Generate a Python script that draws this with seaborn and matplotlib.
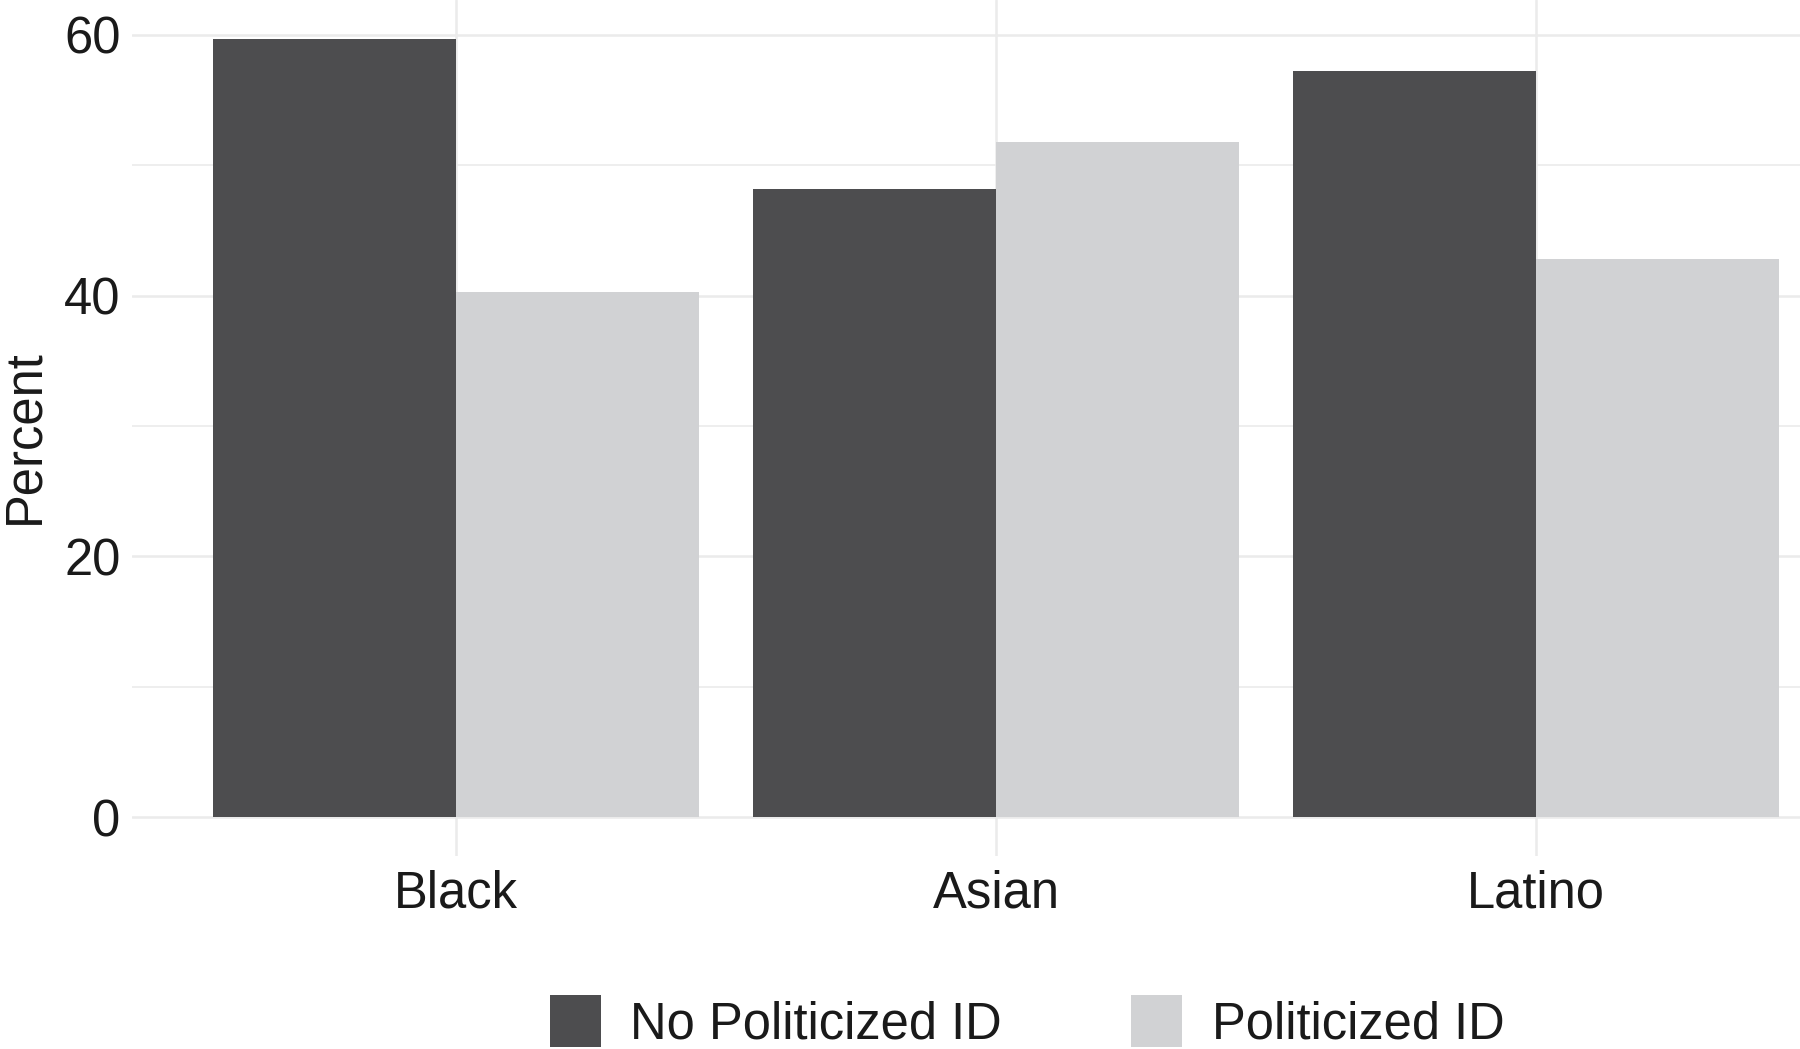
import matplotlib
matplotlib.use("Agg")
import matplotlib.pyplot as plt
import seaborn as sns
import pandas as pd
from matplotlib.patches import Patch
from matplotlib.ticker import MultipleLocator

categories = ["Black", "Asian", "Latino"]
groups = ["No Politicized ID", "Politicized ID"]
no_politicized = [59.7, 48.2, 57.2]
politicized = [40.3, 51.8, 42.8]
colors = ["#4d4d4f", "#d1d2d4"]

df = pd.DataFrame({
    "race": categories * 2,
    "group": [groups[0]] * 3 + [groups[1]] * 3,
    "pct": no_politicized + politicized,
})

sns.set_theme(style="white")
plt.rcParams["font.family"] = ["Liberation Sans", "DejaVu Sans"]

FS = 36.5

fig = plt.figure(figsize=(18, 10.49), dpi=100)
ax = fig.add_axes([0.0733, 0.184, 0.9267, 0.816])

sns.barplot(data=df, x="race", y="pct", hue="group", order=categories,
            hue_order=groups, palette=colors, width=0.9, saturation=1,
            edgecolor="none", linewidth=0, ax=ax, legend=False)

ax.set_xlim(-0.6, 2.489)
ax.set_ylim(-2.985, 62.685)
ax.yaxis.set_major_locator(MultipleLocator(20))
ax.yaxis.set_minor_locator(MultipleLocator(10))
ax.set_axisbelow(True)
ax.grid(which="major", axis="both", color="#ebebeb", linewidth=1.8)
ax.grid(which="minor", axis="y", color="#ebebeb", linewidth=1.2)
for s in ax.spines.values():
    s.set_visible(False)
ax.tick_params(axis="both", which="both", length=0, labelsize=FS, colors="#1a1a1a")
ax.tick_params(axis="y", pad=8.2)
ax.tick_params(axis="x", pad=9.5)
ax.set_xlabel("")
ax.set_ylabel("Percent", fontsize=FS, color="#1a1a1a")
ax.yaxis.set_label_coords(-0.0495, 0.49)

handles = [Patch(facecolor=c, edgecolor="none") for c in colors]
fig.legend(handles, groups, loc="center", bbox_to_anchor=(1027 / 1800, 1 - 1022 / 1049),
           ncol=2, frameon=False, fontsize=FS, handlelength=1.006, handleheight=1.2,
           handletextpad=0.59, columnspacing=2.54, labelcolor="#1a1a1a")

fig.savefig("out.png", dpi=100)
